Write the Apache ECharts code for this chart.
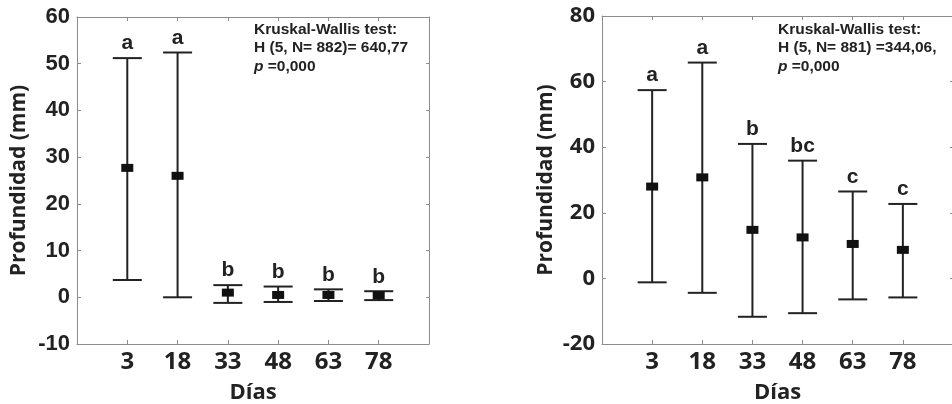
<!DOCTYPE html>
<html>
<head>
<meta charset="utf-8">
<script src="https://cdn.jsdelivr.net/npm/echarts@6/dist/echarts.min.js"></script>
<style>
  html, body { margin: 0; padding: 0; background: #fff; }
  #chart { width: 952px; height: 404px; }
</style>
</head>
<body>
<div id="chart"></div>
<script>
// Sampling days (x positions of the error bars)
const days = [3, 18, 33, 48, 63, 78];

// Left panel: mean and range of depth per day
const leftMean  = [27.7, 26.0, 1.0, 0.5, 0.5, 0.4];
const leftUpper = [51.2, 52.4, 2.6, 2.3, 1.7, 1.3];
const leftLower = [3.7, 0.0, -1.2, -1.0, -0.8, -0.6];
const leftLetters = ['a', 'a', 'b', 'b', 'b', 'b'];
const leftStats = ['Kruskal-Wallis test:', 'H (5, N= 882)= 640,77', '{i|p} =0,000'];

// Right panel
const rightMean  = [28.0, 30.8, 14.8, 12.5, 10.5, 8.7];
const rightUpper = [57.4, 65.8, 41.0, 35.9, 26.5, 22.7];
const rightLower = [-1.2, -4.4, -11.7, -10.6, -6.4, -5.8];
const rightLetters = ['a', 'a', 'b', 'bc', 'c', 'c'];
const rightStats = ['Kruskal-Wallis test:', 'H (5, N= 881) =344,06,', '{i|p} =0,000'];

// Axis ranges
const leftY = { min: -10, max: 60, interval: 10 };
const rightY = { min: -20, max: 80, interval: 20 };
const xRange = { min: -12, max: 93 };

const frameColor = '#8c8c8c';
const inkColor = '#222';

function rows(mean, lower, upper) {
  return days.map((d, i) => [d, lower[i], upper[i], mean[i]]);
}

function makeRenderer(letters) {
  return function (params, api) {
    const x = api.value(0);
    const pLo = api.coord([x, api.value(1)]);
    const pHi = api.coord([x, api.value(2)]);
    const pM = api.coord([x, api.value(3)]);
    const half = 14.5;
    const stroke = { stroke: inkColor, lineWidth: 2 };
    return {
      type: 'group',
      children: [
        { type: 'line', shape: { x1: pLo[0], y1: pLo[1], x2: pHi[0], y2: pHi[1] }, style: stroke },
        { type: 'line', shape: { x1: pHi[0] - half, y1: pHi[1], x2: pHi[0] + half, y2: pHi[1] }, style: stroke },
        { type: 'line', shape: { x1: pLo[0] - half, y1: pLo[1], x2: pLo[0] + half, y2: pLo[1] }, style: stroke },
        { type: 'rect', shape: { x: pM[0] - 6, y: pM[1] - 4, width: 12, height: 8 }, style: { fill: '#111' } },
        {
          type: 'text',
          style: {
            text: letters[params.dataIndex],
            x: pHi[0], y: pHi[1] - 4,
            align: 'center', verticalAlign: 'bottom',
            font: 'bold 21px "Liberation Sans", Arial, sans-serif',
            fill: inkColor
          }
        }
      ]
    };
  };
}

function xAxes(gridIndex) {
  return [
    {
      gridIndex, type: 'value', position: 'bottom', min: xRange.min, max: xRange.max,
      axisLine: { show: true, onZero: false, lineStyle: { color: frameColor, width: 1 } },
      axisTick: { show: true, inside: true, length: 4, customValues: days, lineStyle: { color: frameColor } },
      axisLabel: { show: true, customValues: days, margin: 6, fontSize: 24, fontWeight: 'bold',
        fontFamily: '"Open Sans", sans-serif', color: inkColor },
      splitLine: { show: false },
      name: 'Días', nameLocation: 'middle', nameGap: 38,
      nameTextStyle: { fontSize: 22, fontWeight: 'bold', fontFamily: '"Open Sans", sans-serif', color: inkColor }
    },
    {
      gridIndex, type: 'value', position: 'top', min: xRange.min, max: xRange.max,
      axisLine: { show: true, onZero: false, lineStyle: { color: frameColor, width: 1 } },
      axisTick: { show: true, inside: true, length: 4, customValues: days, lineStyle: { color: frameColor } },
      axisLabel: { show: false },
      splitLine: { show: false }
    }
  ];
}

function yAxes(gridIndex, range, labelFont, labelSize, nameGap) {
  return [
    {
      gridIndex, type: 'value', position: 'left', min: range.min, max: range.max, interval: range.interval,
      axisLine: { show: true, onZero: false, lineStyle: { color: frameColor, width: 1 } },
      axisTick: { show: true, inside: true, length: 4, lineStyle: { color: frameColor } },
      axisLabel: { margin: 7, fontSize: labelSize, fontWeight: 'bold', fontFamily: labelFont, color: inkColor },
      splitLine: { show: false },
      name: 'Profundidad (mm)', nameLocation: 'middle', nameRotate: 90, nameGap,
      nameTextStyle: { fontSize: 21, fontWeight: 'bold', fontFamily: '"Open Sans", sans-serif', color: inkColor }
    },
    {
      gridIndex, type: 'value', position: 'right', min: range.min, max: range.max, interval: range.interval,
      axisLine: { show: true, onZero: false, lineStyle: { color: frameColor, width: 1 } },
      axisTick: { show: true, inside: true, length: 3, lineStyle: { color: frameColor } },
      axisLabel: { show: false },
      splitLine: { show: false }
    }
  ];
}

function statsText(lines, left) {
  return {
    type: 'text', left, top: 20,
    style: {
      text: lines.join('\n'),
      font: 'bold 15.5px "Liberation Sans", Arial, sans-serif',
      lineHeight: 18.5,
      fill: inkColor,
      rich: { i: { fontStyle: 'italic', fontWeight: 'bold', fontSize: 15.5, fontFamily: '"Liberation Sans", Arial, sans-serif', fill: inkColor } }
    }
  };
}

const chart = echarts.init(document.getElementById('chart'), null, { renderer: 'canvas' });
chart.setOption({
  animation: false,
  backgroundColor: '#fff',
  grid: [
    { left: 77, top: 17, width: 352, height: 327, outerBoundsMode: 'none', containLabel: false },
    { left: 602, top: 16, width: 351, height: 328, outerBoundsMode: 'none', containLabel: false }
  ],
  xAxis: [...xAxes(0), ...xAxes(1)],
  yAxis: [
    ...yAxes(0, leftY, '"Liberation Sans", Arial, sans-serif', 22, 47),
    ...yAxes(1, rightY, '"Open Sans", sans-serif', 22, 45)
  ],
  graphic: [statsText(leftStats, 254), statsText(rightStats, 778)],
  series: [
    {
      type: 'custom', xAxisIndex: 0, yAxisIndex: 0, clip: false,
      data: rows(leftMean, leftLower, leftUpper),
      renderItem: makeRenderer(leftLetters)
    },
    {
      type: 'custom', xAxisIndex: 2, yAxisIndex: 2, clip: false,
      data: rows(rightMean, rightLower, rightUpper),
      renderItem: makeRenderer(rightLetters)
    }
  ]
});
</script>
</body>
</html>
